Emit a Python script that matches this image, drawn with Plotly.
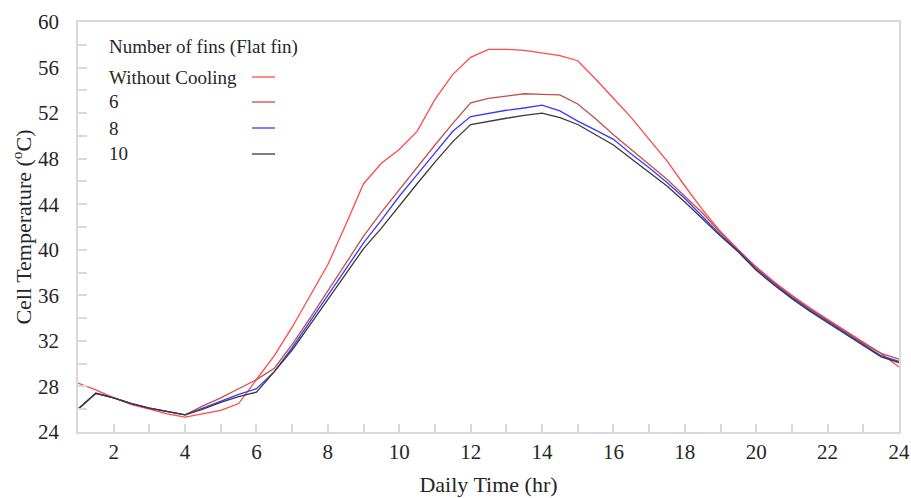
import plotly.graph_objects as go

# Hour of day, half-hour steps
hours = [1 + 0.5 * i for i in range(47)]

without_cooling = [28.3, 27.7, 27.0, 26.4, 26.0, 25.6, 25.3, 25.6, 25.9, 26.5,
                   28.6, 30.7, 33.2, 35.9, 38.7, 42.2, 45.8, 47.6, 48.8, 50.4,
                   53.2, 55.4, 56.9, 57.6, 57.6, 57.5, 57.3, 57.05, 56.6, 55.0,
                   53.3, 51.6, 49.7, 47.8, 45.6, 43.5, 41.6, 40.0, 38.5, 37.2,
                   36.0, 34.9, 33.9, 32.9, 31.9, 30.9, 29.7]

fins_6 = [26.0, 27.4, 27.0, 26.5, 26.1, 25.8, 25.5, 26.3, 27.0, 27.8,
          28.6, 29.6, 31.7, 34.0, 36.4, 38.8, 41.2, 43.3, 45.3, 47.3,
          49.2, 51.1, 52.9, 53.3, 53.5, 53.7, 53.65, 53.6, 52.8, 51.5,
          50.1, 48.8, 47.5, 46.2, 44.7, 43.2, 41.5, 39.9, 38.4, 37.1,
          35.9, 34.8, 33.8, 32.8, 31.8, 30.9, 30.4]

fins_8 = [26.0, 27.4, 27.0, 26.5, 26.1, 25.8, 25.5, 26.1, 26.7, 27.3,
          27.8, 29.3, 31.4, 33.7, 36.0, 38.3, 40.6, 42.6, 44.7, 46.6,
          48.5, 50.4, 51.7, 52.0, 52.25, 52.45, 52.7, 52.2, 51.3, 50.5,
          49.7, 48.4, 47.2, 45.9, 44.5, 42.9, 41.3, 39.9, 38.3, 37.0,
          35.8, 34.7, 33.7, 32.7, 31.7, 30.7, 30.2]

fins_10 = [26.0, 27.4, 27.0, 26.5, 26.1, 25.8, 25.5, 26.0, 26.6, 27.1,
           27.5, 29.3, 31.2, 33.4, 35.6, 37.9, 40.1, 41.9, 43.9, 45.8,
           47.7, 49.5, 51.0, 51.3, 51.55, 51.8, 52.0, 51.6, 51.0, 50.1,
           49.2, 48.0, 46.8, 45.6, 44.2, 42.7, 41.2, 39.8, 38.2, 36.9,
           35.7, 34.6, 33.6, 32.6, 31.6, 30.6, 30.1]

series_names = ["Without Cooling", "6", "8", "10"]
series_values = [without_cooling, fins_6, fins_8, fins_10]
series_colors = ["#ff4a4a", "#c0504d", "#3a3aff", "#3a3a3a"]

x_ticks = list(range(2, 25, 2))
y_ticks = list(range(24, 61, 4))

FONT = "Liberation Serif"
TEXT = "#262626"
AXIS = "#d9d9d9"

fig = go.Figure()
for name, vals, col in zip(series_names, series_values, series_colors):
    fig.add_trace(go.Scatter(x=hours, y=vals, mode="lines", name=name,
                             line=dict(color=col, width=1.3),
                             showlegend=False))

# Legend block: title, labels on the left, line samples on the right
plot_l, plot_r, plot_t, plot_b = 78, 899, 22, 432
pw, ph = plot_r - plot_l, plot_b - plot_t


def px(x):
    return (x - plot_l) / pw


def py(y):
    return (plot_b - y) / ph


fig.add_annotation(x=px(107), y=py(47), xref="paper", yref="paper",
                   text="Number of fins (Flat fin)", showarrow=False,
                   xanchor="left", yanchor="middle",
                   font=dict(family=FONT, size=19, color=TEXT))
for i, (name, col) in enumerate(zip(series_names, series_colors)):
    yy = [77, 102, 128, 154][i]
    fig.add_annotation(x=px(107), y=py(yy), xref="paper", yref="paper",
                       text=name, showarrow=False,
                       xanchor="left", yanchor="middle",
                       font=dict(family=FONT, size=19, color=TEXT))
    fig.add_shape(type="line", xref="paper", yref="paper",
                  x0=px(252), x1=px(275), y0=py(yy), y1=py(yy),
                  line=dict(color=col, width=1.3))

fig.update_layout(
    width=911, height=498,
    margin=dict(l=plot_l, r=911 - plot_r, t=plot_t, b=498 - plot_b),
    paper_bgcolor="white", plot_bgcolor="white",
    font=dict(family=FONT, size=21, color=TEXT),
    xaxis=dict(
        range=[1, 24], tickvals=x_ticks, ticks="inside", ticklen=8,
        tickcolor=AXIS, tickwidth=1.5, automargin=False,
        minor=dict(dtick=1, tick0=0, ticks="inside", ticklen=8,
                   tickcolor=AXIS, tickwidth=1.5),
        showline=True, linecolor=AXIS, linewidth=1.5, mirror=True,
        showgrid=False, zeroline=False,
        tickfont=dict(family=FONT, size=21, color=TEXT),
        title=dict(text="Daily Time (hr)", standoff=14,
                   font=dict(family=FONT, size=22, color=TEXT)),
    ),
    yaxis=dict(
        range=[24, 60], tickvals=y_ticks, ticks="inside", ticklen=9,
        tickcolor=AXIS, tickwidth=1.5, automargin=False,
        minor=dict(dtick=2, tick0=0, ticks="inside", ticklen=9,
                   tickcolor=AXIS, tickwidth=1.5),
        showline=True, linecolor=AXIS, linewidth=1.5, mirror=True,
        showgrid=False, zeroline=False, ticklabelstandoff=13,
        tickfont=dict(family=FONT, size=21, color=TEXT),
        title=dict(text="Cell Temperature (<sup>o</sup>C)", standoff=0,
                   font=dict(family=FONT, size=22, color=TEXT)),
    ),
)

fig.write_html("out.html")
